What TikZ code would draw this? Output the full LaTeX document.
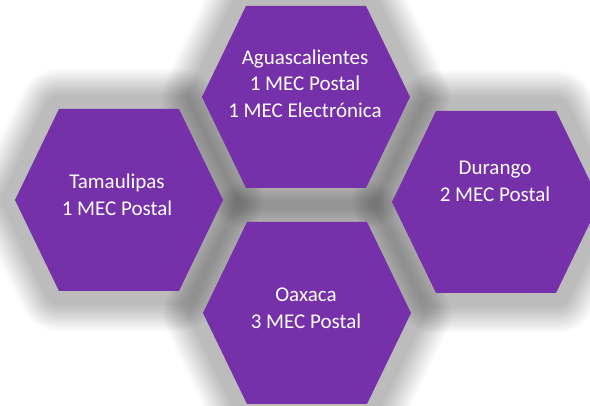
\documentclass[tikz,border=0pt]{standalone}
\usepackage{fontspec}
\setmainfont{Carlito}
\definecolor{hexpurple}{HTML}{7530AA}
\tikzset{
  hexfill/.style={fill=hexpurple, draw=none},
  glow/.style={draw=black, line join=round, draw opacity=0.019, fill=none},
  hexlabel/.style={text=white, align=center, font=\fontsize{21}{26.7}\selectfont, inner sep=0pt}
}
\newcommand\hexagonpath{(104,0) -- (60,91) -- (-60,91) -- (-104,0) -- (-60,-91) -- (60,-91) -- cycle}
\begin{document}
\begin{tikzpicture}[x=1pt,y=-1pt]
\useasboundingbox (0,0) rectangle (590,406);
\clip (0,0) rectangle (590,406);
\fill[white] (0,0) rectangle (590,406);
\coordinate (cT) at (306,97);
\coordinate (cL) at (119,200);
\coordinate (cR) at (496,202);
\coordinate (cB) at (307,313);
% soft shadows
\foreach \c in {cT,cL,cR,cB}{
  \foreach \r in {14,16,...,40}{
    \draw[glow, line width=2*\r, shift={(\c)}] \hexagonpath;
  }
}
% hexagons
\foreach \c in {cT,cL,cR,cB}{
  \path[hexfill, shift={(\c)}] \hexagonpath;
}
\node[hexlabel] (aguas) at (305,83.5) {Aguascalientes\\1 MEC Postal\\1 MEC Electrónica};
\node[hexlabel] (tamau) at (117,195) {Tamaulipas\\1 MEC Postal};
\node[hexlabel] (duran) at (495,181) {Durango\\2 MEC Postal};
\node[hexlabel] (oaxac) at (306,308.5) {Oaxaca\\3 MEC Postal};
\end{tikzpicture}
\end{document}
